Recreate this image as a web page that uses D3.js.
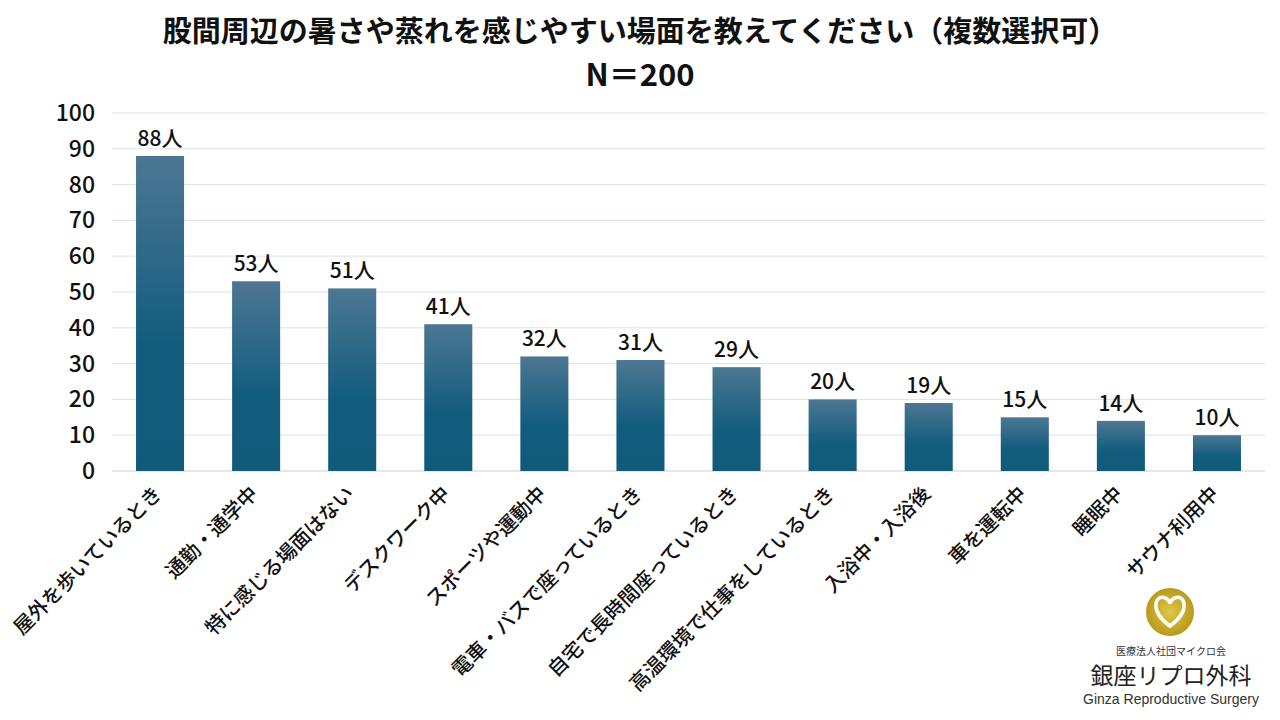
<!DOCTYPE html>
<html><head><meta charset="utf-8">
<script src="https://cdn.jsdelivr.net/npm/d3@7"></script>
<style>body{margin:0;background:#fff;font-family:"Noto Sans CJK JP","Noto Sans",sans-serif}</style>
</head><body>
<svg id="chart" width="1280" height="720"></svg>
<script>
const categories = ["屋外を歩いているとき","通勤・通学中","特に感じる場面はない","デスクワーク中","スポーツや運動中","電車・バスで座っているとき","自宅で長時間座っているとき","高温環境で仕事をしているとき","入浴中・入浴後","車を運転中","睡眠中","サウナ利用中"];
const values = [88,53,51,41,32,31,29,20,19,15,14,10];
const yTicks = [0,10,20,30,40,50,60,70,80,90,100];

const svg = d3.select("#chart");
const x = d3.scaleBand().domain(categories).range([112,1265]).paddingInner(0.5).paddingOuter(0.25);
const y = d3.scaleLinear().domain([0,100]).range([471,113]);

const grad = svg.append("defs").append("linearGradient").attr("id","bg")
    .attr("x1",0).attr("y1",0).attr("x2",0).attr("y2",1);
grad.append("stop").attr("offset","0%").attr("stop-color","#4d7792");
grad.append("stop").attr("offset","60%").attr("stop-color","#125c7e");
grad.append("stop").attr("offset","100%").attr("stop-color","#105a7c");

svg.append("g").selectAll("line").data(yTicks).join("line")
    .attr("x1",112).attr("x2",1265).attr("y1",d=>y(d)).attr("y2",d=>y(d))
    .attr("stroke",d=>d===0?"#c8d3d8":"#dbe4e8").attr("stroke-width",1);

svg.append("g").selectAll("text").data(yTicks).join("text")
    .attr("x",95).attr("y",d=>y(d)).attr("dy","0.35em").attr("text-anchor","end")
    .attr("font-size",23).attr("font-weight",500).attr("fill","#111").text(d=>d);

svg.append("g").selectAll("rect").data(values).join("rect")
    .attr("x",(d,i)=>x(categories[i])).attr("width",x.bandwidth())
    .attr("y",d=>y(d)).attr("height",d=>y(0)-y(d)).attr("fill","url(#bg)");

svg.append("g").selectAll("text").data(values).join("text")
    .attr("x",(d,i)=>x(categories[i])+x.bandwidth()/2).attr("y",d=>y(d)-10)
    .attr("text-anchor","middle").attr("font-size",21).attr("font-weight",500).attr("fill","#111").text(d=>d+"人");

svg.append("g").selectAll("text").data(categories).join("text")
    .attr("transform",d=>`translate(${x(d)+x.bandwidth()/2-2},${490}) rotate(-45)`)
    .attr("text-anchor","end").attr("dy","0.35em").attr("font-size",20).attr("font-weight",500).attr("fill","#111").text(d=>d);

svg.append("text").attr("x",640).attr("y",42).attr("text-anchor","middle")
    .attr("font-size",29).attr("font-weight","bold").attr("fill","#111")
    .text("股間周辺の暑さや蒸れを感じやすい場面を教えてください（複数選択可）");
svg.append("text").attr("x",640).attr("y",86).attr("text-anchor","middle")
    .attr("font-size",31).attr("font-weight","bold").attr("fill","#111").text("N＝200");

// logo
const lg = svg.append("g").attr("transform","translate(1170,612)");
const cg = lg.append("radialGradient").attr("id","gold");
cg.append("stop").attr("offset","0%").attr("stop-color","#e0c84a");
cg.append("stop").attr("offset","100%").attr("stop-color","#b89a1c");
lg.append("circle").attr("r",24).attr("fill","url(#gold)");
lg.append("path").attr("d","M0,14 C-22,-2 -14,-18 -5,-14 C-2,-13 0,-10 0,-8 C0,-10 2,-13 5,-14 C14,-18 22,-2 0,14Z")
    .attr("fill","none").attr("stroke","#fff").attr("stroke-width",3.5);
svg.append("text").attr("x",1171).attr("y",655).attr("text-anchor","middle").attr("font-size",10).attr("fill","#333").text("医療法人社団マイクロ会");
svg.append("text").attr("x",1171).attr("y",684).attr("text-anchor","middle").attr("font-size",23).attr("fill","#222").text("銀座リプロ外科");
svg.append("text").attr("x",1171).attr("y",704).attr("text-anchor","middle").attr("font-size",14).attr("fill","#333")
    .attr("font-family","Liberation Sans, Arial, sans-serif").text("Ginza Reproductive Surgery");
</script>
</body></html>
